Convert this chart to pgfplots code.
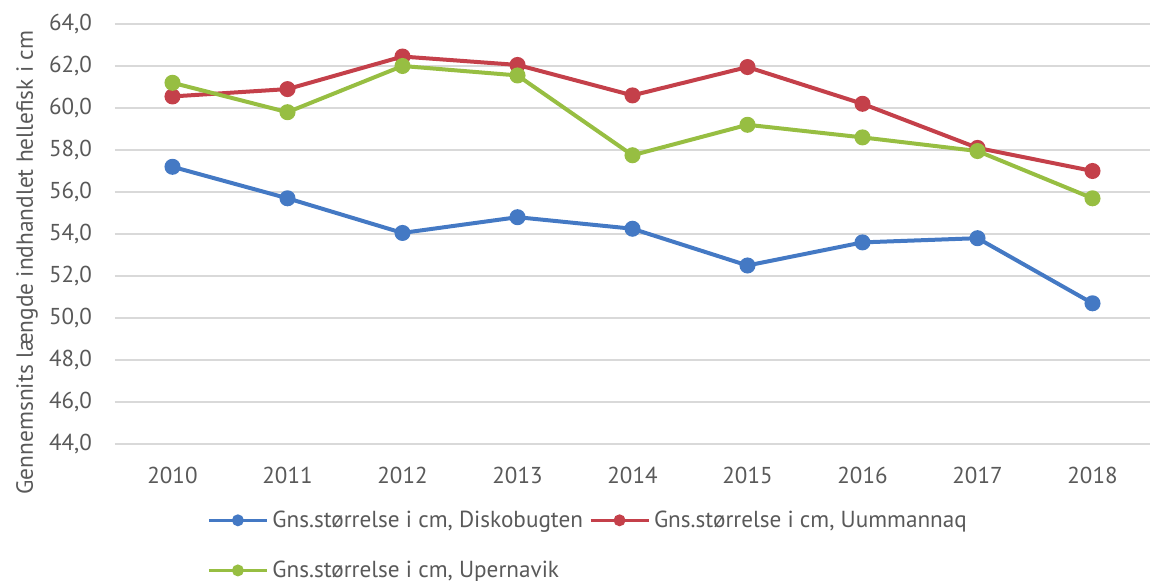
\documentclass[border=0pt]{standalone}
\usepackage{fontspec}
\setmainfont{PT Sans}
\usepackage{pgfplots}
\pgfplotsset{compat=1.18}
\definecolor{cblue}{HTML}{4479C4}
\definecolor{cred}{HTML}{C4404A}
\definecolor{cgreen}{HTML}{97BE42}
\definecolor{tgray}{HTML}{595959}
\definecolor{ggray}{HTML}{D9D9D9}
\begin{document}
\begin{tikzpicture}[x=1pt,y=1pt]
\path[use as bounding box] (0,0) rectangle (580.5,290.5);
\begin{axis}[
  at={(57.5pt,68.5pt)}, anchor=south west,
  scale only axis, width=517.5pt, height=210pt,
  xmin=-0.5, xmax=8.5, ymin=44, ymax=64,
  xtick={0,...,8},
  xticklabels={2010,2011,2012,2013,2014,2015,2016,2017,2018},
  ytick={44,46,...,64},
  axis line style={draw=none},
  tick style={draw=none},
  ymajorgrids, grid style={ggray, line width=0.8pt},
  yticklabel style={/pgf/number format/fixed, /pgf/number format/fixed zerofill, /pgf/number format/precision=1, /pgf/number format/use comma, /pgf/number format/assume math mode=true, xshift=-8pt},
  ticklabel style={font=\fontsize{11.5}{13}\selectfont, text=tgray},
  xticklabel style={yshift=-8pt},
  ylabel={Gennemsnits længde indhandlet hellefisk i cm},
  ylabel style={at={(axis description cs:-0.085,0.432)}, anchor=center, font=\fontsize{11.7}{13}\selectfont, text=tgray},
  legend columns=2,
  legend style={at={(axis description cs:-0.0,-0.148)}, anchor=north west, xshift=46pt, draw=none, fill=none,
    font=\fontsize{11.6}{13}\selectfont, text=tgray, inner sep=0pt, row sep=11.3pt,
    /tikz/every even column/.append style={column sep=1pt}},
  legend cell align=left,
  legend image code/.code={\draw[line width=1.5pt, mark size=2.2pt, mark repeat=2,mark phase=2] plot coordinates {(0pt,0pt) (14.5pt,0pt) (29pt,0pt)};},
  every axis plot/.append style={line width=2pt, mark=*, mark size=3pt},
]
\addplot[cblue, mark options={fill=cblue}] coordinates {(0,57.2) (1,55.7) (2,54.05) (3,54.8) (4,54.25) (5,52.5) (6,53.6) (7,53.8) (8,50.7)};
\addlegendentry{Gns.størrelse i cm, Diskobugten}
\addplot[cred, mark options={fill=cred}] coordinates {(0,60.55) (1,60.9) (2,62.45) (3,62.05) (4,60.6) (5,61.95) (6,60.2) (7,58.1) (8,57.0)};
\addlegendentry{Gns.størrelse i cm, Uummannaq}
\addplot[cgreen, mark options={fill=cgreen}] coordinates {(0,61.2) (1,59.8) (2,62.0) (3,61.55) (4,57.75) (5,59.2) (6,58.6) (7,57.95) (8,55.7)};
\addlegendentry{Gns.størrelse i cm, Upernavik}
\end{axis}
\end{tikzpicture}
\end{document}
